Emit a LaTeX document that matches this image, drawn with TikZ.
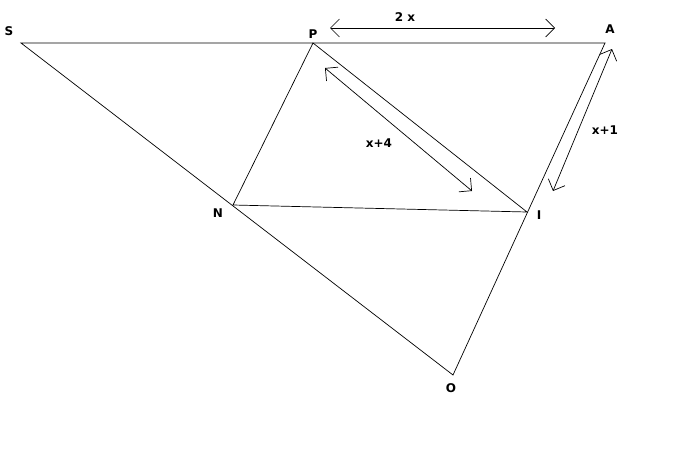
\documentclass[tikz,border=0pt]{standalone}
\usepackage{fontspec}
\setsansfont{DejaVu Sans}
\usetikzlibrary{arrows.meta}

\begin{document}
\begin{tikzpicture}[x=1pt, y=-1pt, line width=0.7pt,
    lbl/.style={font=\sffamily\bfseries\fontsize{12}{14}\selectfont, inner sep=0pt},
    measure/.style={{Straight Barb[length=9pt,width=18pt]}-{Straight Barb[length=9pt,width=18pt]}}]
    \useasboundingbox (0,0) rectangle (675,458);
    % vertices
    \coordinate (S) at (21,43);
    \coordinate (P) at (313,43);
    \coordinate (A) at (605,43);
    \coordinate (N) at (233,205);
    \coordinate (I) at (527,212);
    \coordinate (O) at (453,375);
    \node [lbl] (s) at (9,31) {S};
    \node [lbl] (p) at (313,34) {P};
    \node [lbl] (a) at (610,29) {A};
    \node [lbl] (n) at (218,213) {N};
    \node [lbl] (i) at (539,215) {I};
    \node [lbl] (o) at (451,388) {O};
    \draw (S) -- (A) -- (O) -- cycle;
    \draw (P) -- (N) -- (I) -- cycle;
    % lengths
    \coordinate (m1) at (330,28);
    \coordinate (m2) at (555,28);
    \coordinate (m3) at (325,68);
    \coordinate (m4) at (472,191);
    \coordinate (m5) at (612,49);
    \coordinate (m6) at (553,191);
    \draw [measure] (m1) -- (m2);
    \draw [measure] (m3) -- (m4);
    \draw [measure] (m5) -- (m6);
    \node [lbl] (l1) at (405,17) {2 x};
    \node [lbl] (l2) at (379,143) {x+4};
    \node [lbl] (l3) at (605,130) {x+1};
  \end{tikzpicture}
\end{document}
